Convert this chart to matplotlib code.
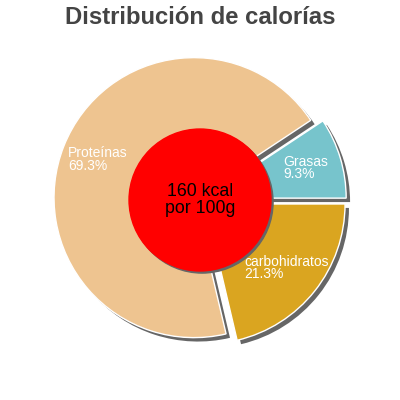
import numpy as np
import matplotlib.pyplot as plt

# Calorie split per 100 g
labels = ['Grasas', 'Proteínas', 'carbohidratos']
shares = [9.3, 69.3, 21.3]
colors = ['#77c4cc', '#eec490', '#daa520']
kcal_text = '160 kcal\npor 100g'
title = 'Distribución de calorías'

plt.rcParams['font.family'] = ['Liberation Sans', 'DejaVu Sans']

fig = plt.figure(figsize=(4, 4), dpi=100)
ax = fig.add_axes([0, 0, 1, 1])
lim = 400 / 140 / 2

explode = [0.046] * len(shares)
shadow_off = (0.028, -0.028)

# shadow layer first, then the coloured pie on top
ax.pie(shares, colors=['#666666'] * len(shares), explode=explode, startangle=0,
       counterclock=True, center=shadow_off, radius=1, frame=True,
       wedgeprops=dict(linewidth=0))
wedges, _ = ax.pie(shares, colors=colors, explode=explode, startangle=0,
                   counterclock=True, radius=1, frame=True,
                   wedgeprops=dict(edgecolor='white', linewidth=1))
ax.set_xlim(-lim, lim)
ax.set_ylim(-lim, lim)
ax.set_aspect('equal')
ax.axis('off')

for w, name, val in zip(wedges, labels, shares):
    mid = np.deg2rad((w.theta1 + w.theta2) / 2)
    cx, cy = w.center
    r = 0.74
    ax.text(cx + r * np.cos(mid), cy + r * np.sin(mid),
            f'{name}\n{val:.1f}%',
            ha='center', va='center', multialignment='left',
            color='white', fontsize=10, linespacing=0.85)

# centre disc with its own shadow
ax.add_patch(plt.Circle((0.015, -0.015), 0.507, color='#666666', zorder=3))
ax.add_patch(plt.Circle((0, 0), 0.507, color='#ff0000', zorder=4))
ax.text(0, 0, kcal_text, ha='center', va='center', fontsize=12.8,
        color='black', zorder=5, linespacing=1.0)

fig.text(0.5, 1 - 17 / 400, title, ha='center', va='center',
         fontsize=17.2, fontweight='bold', color='#444444')

fig.savefig('out.png', dpi=100)
